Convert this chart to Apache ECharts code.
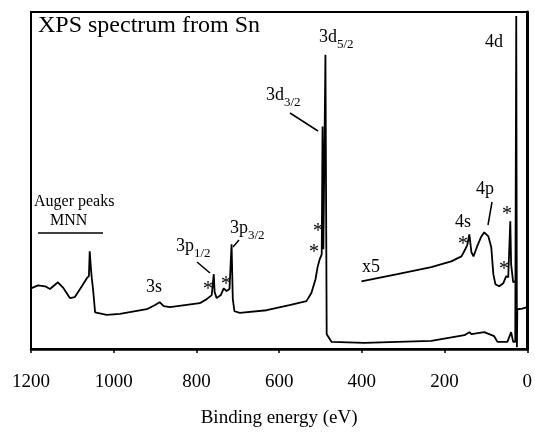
<!DOCTYPE html>
<html>
<head>
<meta charset="utf-8">
<script src="https://cdn.jsdelivr.net/npm/echarts@6/dist/echarts.min.js"></script>
<style>
  html, body { margin: 0; padding: 0; background: #fff; }
  #chart { width: 535px; height: 433px; }
</style>
</head>
<body>
<div id="chart"></div>
<script>
  // binding energy (eV) and intensity (arb.)
  var mainEnergy = [1200, 1183, 1166, 1154, 1135, 1123, 1106, 1094, 1077, 1065, 1060, 1058, 1055, 1053, 1050, 1045,
    1017, 985, 920, 901, 889, 879, 864, 792, 775, 763, 758, 756, 751, 741, 734, 727, 720, 715, 712, 708, 695,
    630, 575, 534, 522, 512, 507, 502, 497, 495, 493, 488, 485, 473, 394, 232, 152, 140, 135, 104, 80, 72,
    48, 39, 34, 29, 26.6, 25, 24, 12, 0];
  var mainCounts = [18.0, 18.9, 18.6, 17.8, 19.8, 18.3, 15.1, 15.4, 18.6, 21.0, 21.6, 29.0, 23.7, 21.0, 17.8, 10.9,
    10.1, 10.4, 11.8, 13.0, 13.9, 12.7, 12.4, 13.6, 14.8, 16.0, 22.2, 16.9, 15.1, 16.0, 18.0, 17.2, 17.8, 31.1, 14.8, 11.2, 10.7,
    11.5, 13.0, 14.2, 16.6, 20.7, 24.3, 26.6, 28.1, 66.0, 29.6, 87.3, 4.4, 2.1, 1.8, 2.4, 4.1, 5.0, 4.4, 5.0, 3.8, 2.1,
    2.1, 5.0, 2.1, 2.1, 98.8, 0.5, 11.8, 12.0, 12.4];

  // x5 magnified trace
  var x5Energy = [401, 314, 232, 184, 159, 150, 145, 140, 135, 130, 121, 111, 104, 94, 87, 82, 77, 68, 58, 51, 46, 41, 39, 34, 29];
  var x5Counts = [20.1, 22.2, 24.3, 26.0, 27.5, 29.6, 30.8, 34.0, 28.7, 27.5, 30.5, 33.4, 34.6, 33.4, 30.2, 22.2, 19.2, 18.6, 19.5, 21.6, 21.3, 37.9, 25.1, 19.8, 20.1];

  var xTicks = [0, 200, 400, 600, 800, 1000, 1200];

  function pairs(xs, ys) {
    return xs.map(function (x, i) { return [x, ys[i]]; });
  }

  var serif = '"Liberation Serif", "DejaVu Serif", serif';
  var sub = {
    b: { fontSize: 18, lineHeight: 20, verticalAlign: 'top', fontFamily: serif, fill: '#000' },
    s: { fontSize: 13, lineHeight: 13, padding: [10, 0, 0, 0], verticalAlign: 'top', fontFamily: serif, fill: '#000' }
  };

  function label(x, y, text, size) {
    return {
      type: 'text', x: x, y: y, z: 10,
      style: { text: text, font: (size || 18) + 'px ' + serif, fill: '#000', rich: sub }
    };
  }
  function leader(x1, y1, x2, y2) {
    return {
      type: 'line', z: 10,
      shape: { x1: x1, y1: y1, x2: x2, y2: y2 },
      style: { stroke: '#000', lineWidth: 1.5 }
    };
  }

  const myEcharts = echarts.init(document.getElementById('chart'));
  const options = {
    backgroundColor: '#fff',
    animation: false,
    grid: {
      left: 31, right: 6, top: 12, bottom: 83,
      show: true, borderColor: '#000', borderWidth: 2
    },
    xAxis: {
      type: 'value', min: 0, max: 1200, interval: 200, inverse: true,
      name: 'Binding energy (eV)', nameLocation: 'middle', nameGap: 60,
      nameTextStyle: { fontFamily: serif, fontSize: 19, color: '#000' },
      axisLine: { show: true, lineStyle: { color: '#000', width: 2.5 } },
      axisTick: { show: true, length: 4, lineStyle: { color: '#000', width: 1.5 } },
      axisLabel: {
        margin: 24, fontFamily: serif, fontSize: 19, color: '#000',
        customValues: xTicks,
        formatter: function (v) { return String(v); }
      },
      splitLine: { show: false }
    },
    yAxis: {
      type: 'value', min: 0, max: 100,
      axisLine: { show: true, lineStyle: { color: '#000', width: 3 } },
      axisTick: { show: false },
      axisLabel: { show: false },
      splitLine: { show: false }
    },
    series: [
      {
        name: 'spectrum', type: 'line', data: pairs(mainEnergy, mainCounts),
        symbol: 'none', lineStyle: { color: '#000', width: 1.8 }
      },
      {
        name: 'x5', type: 'line', data: pairs(x5Energy, x5Counts),
        symbol: 'none', lineStyle: { color: '#000', width: 1.8 }
      }
    ],
    graphic: [
      label(38, 14, 'XPS spectrum from Sn', 24),
      label(34, 194, 'Auger peaks', 16),
      label(50, 213, 'MNN', 16),
      leader(38, 233, 103, 233),
      label(146, 278, '3s'),
      label(176, 237, '{b|3p}{s|1/2}'),
      leader(197, 262, 210, 273),
      label(230, 219, '{b|3p}{s|3/2}'),
      leader(233, 247, 239, 240),
      label(266, 86, '{b|3d}{s|3/2}'),
      leader(290, 113, 318, 131),
      label(319, 28, '{b|3d}{s|5/2}'),
      label(485, 33, '4d'),
      label(455, 213, '4s'),
      label(476, 180, '4p'),
      leader(492, 202, 488, 225),
      label(362, 258, 'x5'),
      label(313, 222, '*', 20),
      label(309, 243, '*', 20),
      label(203, 280, '*', 20),
      label(221, 275, '*', 20),
      label(458, 235, '*', 20),
      label(502, 205, '*', 20),
      label(499, 260, '*', 20)
    ]
  };
  myEcharts.setOption(options, true);
  window.addEventListener("resize", function () {
    myEcharts.resize();
  });
</script>
</body>
</html>
